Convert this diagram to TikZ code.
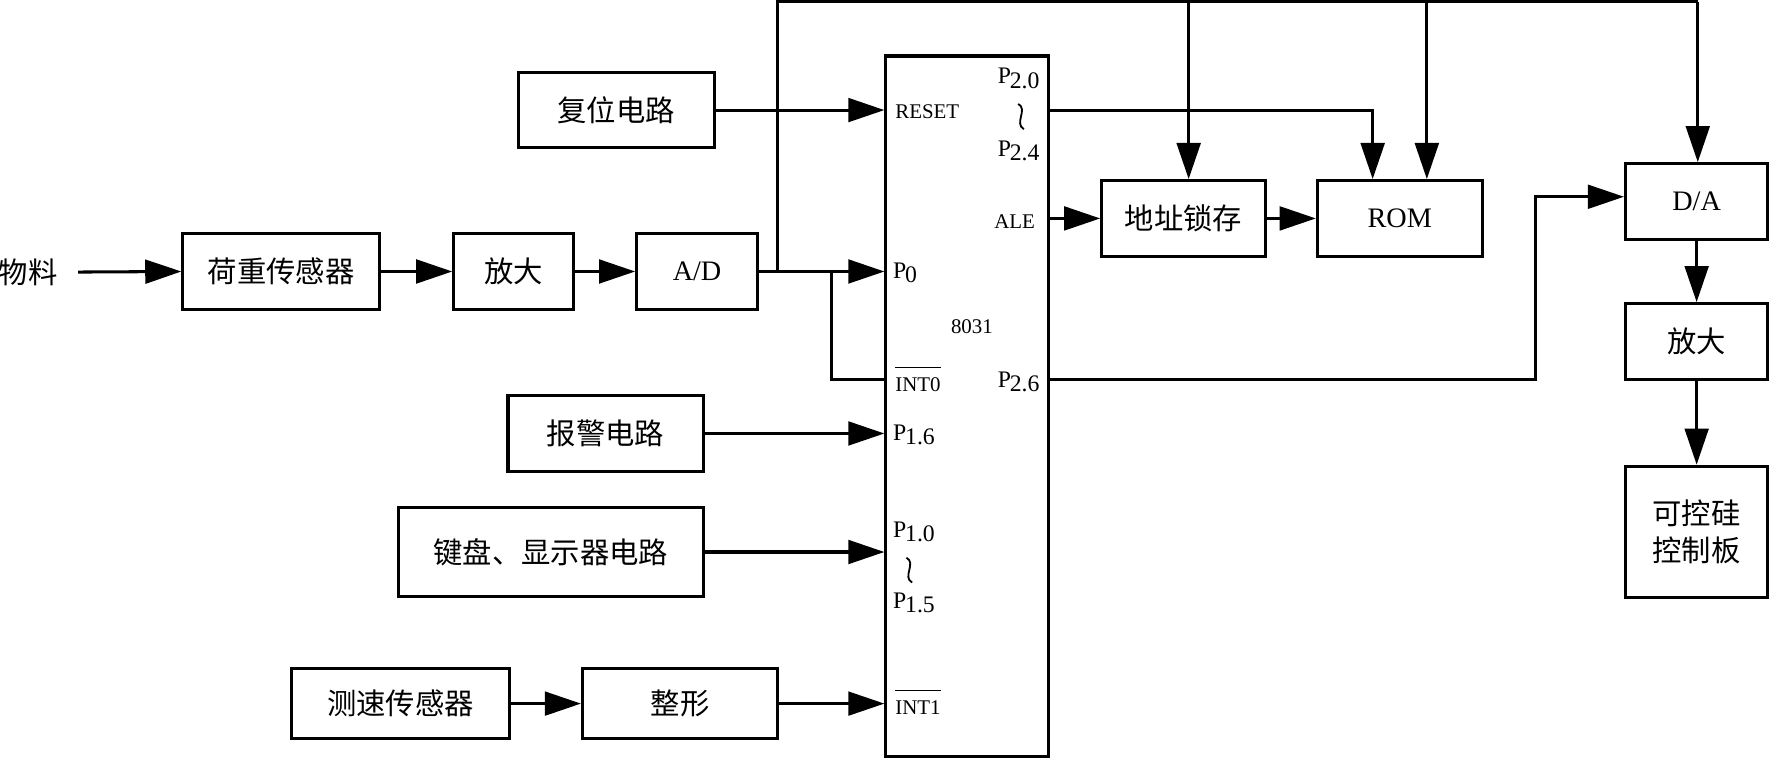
\documentclass[tikz,border=0pt]{standalone}
\usepackage{fontspec}
\setmainfont{Liberation Serif}
\newfontfamily\cjk{Noto Sans CJK SC}
\usetikzlibrary{arrows.meta}
\newcommand\pinP[1]{\raisebox{4pt}{P}\kern-1pt#1}
\begin{document}
\begin{tikzpicture}[x=1pt,y=-1pt,
  ln/.style={line width=2.7pt},
  arr/.style={line width=2.7pt,-{Triangle[length=32pt,width=21pt]}},
  blk/.style={draw,line width=2.7pt,inner sep=0pt,align=center,font=\cjk\fontsize{26}{32.5}\selectfont},
  latblk/.style={blk,font=\rmfamily\fontsize{25}{30}\selectfont},
  pin/.style={inner sep=0pt,font=\rmfamily\fontsize{18.5}{22}\selectfont},
  pinp/.style={inner sep=0pt,font=\rmfamily\fontsize{21}{24}\selectfont},
  squig/.style={line width=1.6pt},
]
\useasboundingbox (0,0) rectangle (1568,672);

% blocks
\node[inner sep=0pt,font=\cjk\fontsize{26}{30}\selectfont] (wl) at (25,241) {物料};
\node[blk,minimum width=174pt,minimum height=67pt] (hz) at (249,240.5) {荷重传感器};
\node[blk,minimum width=106pt,minimum height=67pt] (fd1) at (455,240.5) {放大};
\node[latblk,minimum width=107pt,minimum height=67pt] (ad) at (617.5,240.5) {A/D};
\node[draw,line width=2.7pt,minimum width=143.7pt,minimum height=620.9pt,inner sep=0pt] (chip) at (856.65,360.05) {};
\node[blk,minimum width=174pt,minimum height=67pt] (fw) at (546,97.5) {复位电路};
\node[blk,minimum width=173pt,minimum height=68pt] (bj) at (536.5,384) {报警电路};
\node[blk,minimum width=270pt,minimum height=79.5pt] (jp) at (488,489) {键盘、显示器电路};
\node[blk,minimum width=192.5pt,minimum height=62.6pt] (cs) at (354.75,623.3) {测速传感器};
\node[blk,minimum width=173pt,minimum height=62.6pt] (zx) at (602.5,623.3) {整形};
\node[blk,minimum width=145pt,minimum height=67pt] (dz) at (1048.5,193.5) {地址锁存};
\node[latblk,minimum width=146pt,minimum height=67pt] (rom) at (1240,193.5) {ROM};
\node[latblk,minimum width=126pt,minimum height=67pt] (da) at (1503,178.5) {D/A};
\node[blk,minimum width=126pt,minimum height=67pt] (fd2) at (1503,302.5) {放大};
\node[blk,minimum width=126pt,minimum height=116pt] (kg) at (1503,471) {可控硅\\控制板};

% pin labels
\node[pin,anchor=base west] (lreset) at (793,104.8) {RESET};
\node[pinp,anchor=base east] (l20) at (921,78.2) {\pinP{2.0}};
\node[pinp,anchor=base east] (l24) at (921,142.3) {\pinP{2.4}};
\node[pin,anchor=base east] (lale) at (917,202) {ALE};
\node[pinp,anchor=base west] (lp0) at (791,250.6) {\pinP{0}};
\node[pin,anchor=base] (l8031) at (861,295) {8031};
\node[pin,anchor=base west] (lint0) at (793,347) {INT0};
\node[pinp,anchor=base east] (l26) at (921,347) {\pinP{2.6}};
\node[pinp,anchor=base west] (l16) at (791,394) {\pinP{1.6}};
\node[pinp,anchor=base west] (l10) at (791,479.8) {\pinP{1.0}};
\node[pinp,anchor=base west] (l15) at (791,543) {\pinP{1.5}};
\node[pin,anchor=base west] (lint1) at (793,633.3) {INT1};
\coordinate (ov0) at (0,325.5);
\coordinate (ov1) at (0,611.8);
\draw[line width=1.3pt] (lint0.west |- ov0) -- (lint0.east |- ov0);
\draw[line width=1.3pt] (lint1.west |- ov1) -- (lint1.east |- ov1);

% range marks (vertical tilde)
\draw[squig] (902,92) .. controls (911,97) and (898,109) .. (907,114.5);
\draw[squig] (803,494) .. controls (812,499) and (799,511) .. (808,516);

% helper coordinates
\coordinate (j1) at (689,240.5);
\coordinate (j2) at (737,240.5);
\coordinate (t1) at (689,1.5);
\coordinate (t2) at (1053,1.5);
\coordinate (t3) at (1264,1.5);
\coordinate (t4) at (1504,1.5);
\coordinate (r1) at (1216,97.5);
\coordinate (c26) at (1360,174.3);
\coordinate (yint0) at (0,336.6);

% connectors
\draw[arr] ([xshift=18pt]wl.east) -- (hz.west);
\draw[arr] (hz.east) -- (fd1.west);
\draw[arr] (fd1.east) -- (ad.west);
\draw[arr] (ad.east) -- (ad.east -| chip.west);
\draw[ln] (j1) -- (t1) -- (t4);
\draw[arr] (t4) -- (t4 |- da.north);
\draw[arr] (t2) -- (t2 |- dz.north);
\draw[arr] (t3) -- (t3 |- rom.north);
\draw[ln] (j2) |- (chip.west |- yint0);
\draw[arr] (fw.east) -- (fw.east -| chip.west);
\draw[arr] (chip.east |- fw.east) -| (r1 |- rom.north);
\draw[arr] (chip.east |- dz.west) -- (dz.west);
\draw[arr] (dz.east) -- (rom.west);
\draw[arr] (chip.east |- yint0) -| (c26) -- (c26 -| da.west);
\draw[arr] (da.south) -- (fd2.north);
\draw[arr] (fd2.south) -- (kg.north);
\draw[arr] (bj.east) -- (bj.east -| chip.west);
\draw[arr] (jp.east) -- (jp.east -| chip.west);
\draw[arr] (zx.east) -- (zx.east -| chip.west);
\draw[arr] (cs.east) -- (zx.west);
\end{tikzpicture}
\end{document}
